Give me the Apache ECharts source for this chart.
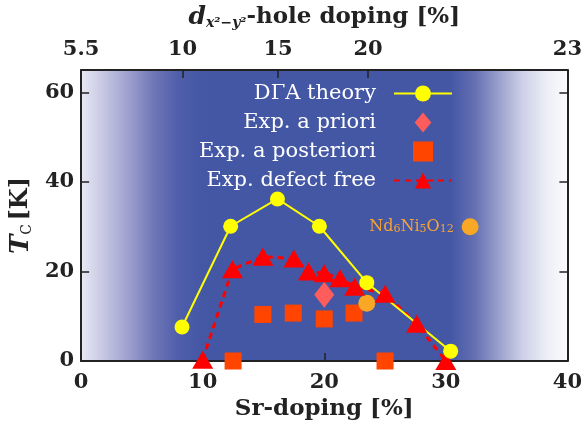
<!DOCTYPE html>
<html>
<head>
<meta charset="utf-8">
<script src="https://cdn.jsdelivr.net/npm/echarts@6/dist/echarts.min.js"></script>
<style>
html, body { margin: 0; padding: 0; background: #fff; }
#main { width: 585px; height: 426px; }
</style>
</head>
<body>
<div id="main"></div>
<script>
// values (x in Sr-doping %, y in Tc K)
var theoryX = [8.3, 12.3, 16.15, 19.6, 23.5, 30.4];
var theoryY = [7.6, 30.1, 36.2, 30.1, 17.5, 2.2];
var prioriX = [20];
var prioriY = [14.8];
var posterioriX = [12.5, 14.95, 17.45, 20, 22.45, 25];
var posterioriY = [0, 10.4, 10.7, 9.4, 10.7, 0];
var defectX = [10, 12.45, 14.95, 17.5, 18.7, 20, 21.3, 22.5, 25, 27.6, 30];
var defectY = [0.3, 20.5, 23.3, 22.9, 20, 19.6, 18.5, 16.6, 15, 8.3, 0];
var ndX = [23.5, 32];
var ndY = [12.9, 30];

var srTicks = [0, 10, 20, 30, 40];
var tcTicks = [0, 20, 40, 60];
// top axis: hole doping labels placed at their Sr-doping position
var holeTickPos = [0, 8.34, 16.2, 23.6, 40];
var holeLabels = ['5.5', '10', '15', '20', '23'];

var legendNames = ['D\u0393A theory', 'Exp. a priori', 'Exp. a posteriori', 'Exp. defect free'];

function pairs(xs, ys) {
    var out = [];
    for (var i = 0; i < xs.length; i++) {
        out.push([xs[i], ys[i]]);
    }
    return out;
}

var font = 'DejaVu Serif';
var ink = '#222';

var axisLineStyle = { show: true, onZero: false, lineStyle: { color: ink, width: 2 } };
var tickStyle = { color: ink, width: 1.5 };
var labelStyle = { fontFamily: font, fontSize: 21, fontWeight: 'bold', color: ink };

var ndData = pairs(ndX, ndY).map(function(p, i) {
    if (i == 1) {
        return {
            value: p,
            label: {
                show: true,
                position: 'left',
                distance: 8,
                formatter: '{a|Nd}{s|6}{a|Ni}{s|5}{a|O}{s|12}',
                rich: {
                    a: { fontFamily: font, fontSize: 16, color: '#f5a236' },
                    s: { fontFamily: font, fontSize: 11, color: '#f5a236', verticalAlign: 'bottom' }
                }
            }
        };
    }
    return { value: p };
});

var myChart = echarts.init(document.getElementById('main'));

var option = {
    animation: false,
    grid: {
        left: 79, right: 17, top: 68, bottom: 65,
        show: true,
        borderWidth: 0,
        backgroundColor: {
            type: 'linear', x: 0, y: 0, x2: 1, y2: 0,
            colorStops: [
                { offset: 0, color: '#e8e8f4' },
                { offset: 0.05, color: '#c3c4e1' },
                { offset: 0.1, color: '#9b9ecc' },
                { offset: 0.15, color: '#6f76b6' },
                { offset: 0.2, color: '#4f5eaa' },
                { offset: 0.25, color: '#4457a5' },
                { offset: 0.76, color: '#4457a5' },
                { offset: 0.81, color: '#6570b3' },
                { offset: 0.86, color: '#9ba1cd' },
                { offset: 0.91, color: '#cfd2e8' },
                { offset: 0.96, color: '#eeeff7' },
                { offset: 1, color: '#fbfbfd' }
            ]
        }
    },
    legend: {
        orient: 'vertical',
        right: 127,
        top: 78,
        align: 'right',
        itemWidth: 58,
        itemHeight: 20,
        itemGap: 8,
        symbolKeepAspect: true,
        selectedMode: false,
        data: [
            { name: legendNames[0] },
            { name: legendNames[1], icon: 'path://M10,0L20,12L10,24L0,12Z' },
            { name: legendNames[2], icon: 'path://M0,0L16,0L16,16L0,16Z' },
            { name: legendNames[3] }
        ],
        textStyle: { color: '#fff', fontFamily: font, fontSize: 21, padding: [0, 13, 0, 0] }
    },
    xAxis: [{
        type: 'value',
        position: 'bottom',
        min: 0, max: 40, interval: 10,
        axisLine: axisLineStyle,
        axisTick: { inside: true, length: 8, lineStyle: tickStyle },
        axisLabel: Object.assign({ margin: 11, customValues: srTicks }, labelStyle),
        splitLine: { show: false },
        name: 'Sr-doping [%]',
        nameLocation: 'middle',
        nameGap: 37,
        nameTextStyle: { fontFamily: font, fontSize: 23, fontWeight: 'bold', color: ink }
    }, {
        type: 'value',
        position: 'top',
        min: 0, max: 40,
        axisLine: axisLineStyle,
        axisTick: { inside: true, length: 8, lineStyle: tickStyle, customValues: holeTickPos },
        axisLabel: Object.assign({
            margin: 10,
            customValues: holeTickPos,
            formatter: function(v) {
                var best = 0;
                for (var i = 0; i < holeTickPos.length; i++) {
                    if (Math.abs(holeTickPos[i] - v) < Math.abs(holeTickPos[best] - v)) best = i;
                }
                return holeLabels[best];
            }
        }, labelStyle),
        splitLine: { show: false },
        name: '{d|d}{s|x\u00b2\u2212y\u00b2}{r|-hole doping [%]}',
        nameLocation: 'middle',
        nameGap: 40,
        nameTextStyle: {
            rich: {
                d: { fontFamily: font, fontSize: 25, fontWeight: 'bold', fontStyle: 'italic', color: ink },
                s: { fontFamily: font, fontSize: 14, fontStyle: 'italic', fontWeight: 'bold', color: ink, verticalAlign: 'bottom' },
                r: { fontFamily: font, fontSize: 23, fontWeight: 'bold', color: ink }
            }
        }
    }],
    yAxis: [{
        type: 'value',
        position: 'left',
        min: 0, max: 65,
        axisLine: axisLineStyle,
        axisTick: { inside: true, length: 8, lineStyle: tickStyle, customValues: tcTicks },
        axisLabel: Object.assign({ margin: 7, customValues: tcTicks }, labelStyle),
        splitLine: { show: false },
        name: '{t|T}{s|C} {k|[K]}',
        nameLocation: 'middle',
        nameRotate: 90,
        nameGap: 44,
        nameTextStyle: {
            rich: {
                t: { fontFamily: font, fontSize: 26, fontWeight: 'bold', fontStyle: 'italic', color: ink },
                s: { fontFamily: font, fontSize: 14, color: ink, verticalAlign: 'bottom' },
                k: { fontFamily: font, fontSize: 24, fontWeight: 'bold', color: ink }
            }
        }
    }, {
        type: 'value',
        position: 'right',
        min: 0, max: 65,
        axisLine: axisLineStyle,
        axisTick: { inside: true, length: 8, lineStyle: tickStyle, customValues: tcTicks },
        axisLabel: { show: false },
        splitLine: { show: false }
    }],
    series: [{
        name: legendNames[2],
        type: 'scatter',
        symbol: 'rect',
        symbolSize: 17,
        clip: false,
        itemStyle: { color: '#ff4500', opacity: 1 },
        data: pairs(posterioriX, posterioriY)
    }, {
        name: legendNames[1],
        type: 'scatter',
        symbol: 'diamond',
        symbolSize: [20, 26],
        clip: false,
        itemStyle: { color: '#ff5c5c', opacity: 1 },
        data: pairs(prioriX, prioriY)
    }, {
        name: legendNames[3],
        type: 'line',
        symbol: 'triangle',
        symbolSize: [21, 18],
        clip: false,
        lineStyle: { color: '#ff0000', width: 3, type: [6, 5] },
        itemStyle: { color: '#ff0000' },
        data: pairs(defectX, defectY)
    }, {
        name: legendNames[0],
        type: 'line',
        symbol: 'circle',
        symbolSize: 15,
        clip: false,
        lineStyle: { color: '#ffff00', width: 2 },
        itemStyle: { color: '#ffff00' },
        data: pairs(theoryX, theoryY)
    }, {
        name: 'Nd6Ni5O12',
        type: 'scatter',
        symbol: 'circle',
        symbolSize: 17,
        clip: false,
        itemStyle: { color: '#f9a825', opacity: 1 },
        data: ndData
    }]
};

myChart.setOption(option);
</script>
</body>
</html>
